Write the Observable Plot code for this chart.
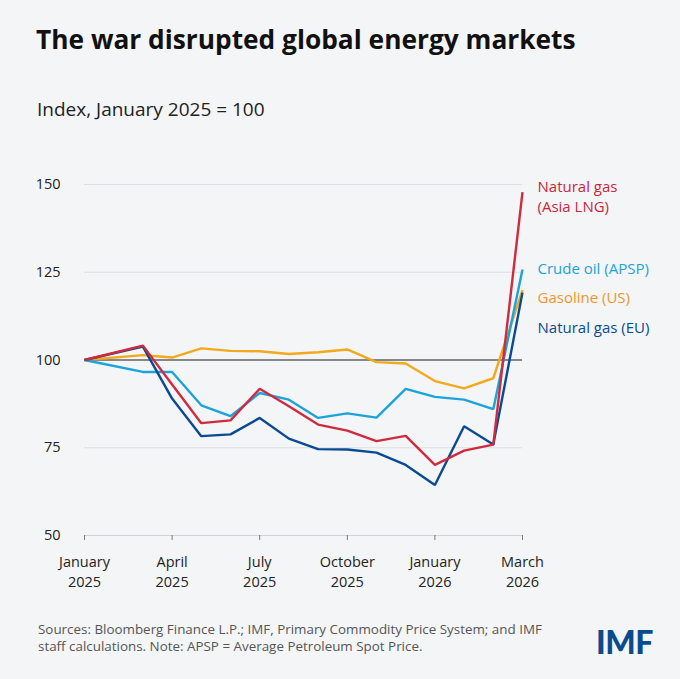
<!DOCTYPE html>
<html>
<head>
<meta charset="utf-8">
<script src="https://cdn.jsdelivr.net/npm/d3@7"></script>
<script src="https://cdn.jsdelivr.net/npm/@observablehq/plot@0.6"></script>
<style>
  html, body { margin: 0; padding: 0; background: #f4f5f7; }
  #wrap { position: relative; width: 680px; height: 679px; overflow: hidden; background: #f4f5f7; font-family: "Open Sans", Lato, sans-serif; }
  .title { position: absolute; left: 36px; top: 21px; font-size: 26.3px; font-weight: 700; color: #111; white-space: nowrap; line-height: normal; }
  .subtitle { position: absolute; left: 37px; top: 96px; font-size: 19px; color: #222; white-space: nowrap; line-height: normal; }
  #chart { position: absolute; left: 0; top: 140px; }
  .note { position: absolute; left: 38px; top: 621px; font-size: 13.4px; line-height: 17px; color: #555; white-space: nowrap; }
  .logo { position: absolute; left: 596px; top: 622px; font-family: Lato, sans-serif; font-size: 32px; font-weight: 900; color: #0b4a8f; letter-spacing: -0.5px; line-height: normal; }
</style>
</head>
<body>
<div id="wrap">
  <div class="title">The war disrupted global energy markets</div>
  <div class="subtitle">Index, January 2025 = 100</div>
  <div id="chart"></div>
  <div class="note">Sources: Bloomberg Finance L.P.; IMF, Primary Commodity Price System; and IMF<br>staff calculations. Note: APSP = Average Petroleum Spot Price.</div>
  <div class="logo">IMF</div>
</div>
<script>
// Month index counted from January 2025 (0) to March 2026 (15)
const monthIndex = [0, 2, 3, 4, 5, 6, 7, 8, 9, 10, 11, 12, 13, 14, 15];
const tickMonths = [0, 3, 6, 9, 12, 15];
const tickLabels = ["January\n2025", "April\n2025", "July\n2025", "October\n2025", "January\n2026", "March\n2026"];
const yTicks = [50, 75, 100, 125, 150];

const seriesNames = ["Gasoline (US)", "Crude oil (APSP)", "Natural gas (EU)", "Natural gas\n(Asia LNG)"];
const gasolineUS = [100, 101.4, 100.7, 103.3, 102.6, 102.5, 101.7, 102.2, 103.0, 99.4, 99.0, 94.0, 91.9, 94.8, 119.9];
const crudeOilAPSP = [100, 96.6, 96.6, 87.1, 84.0, 90.6, 88.7, 83.5, 84.8, 83.6, 91.8, 89.5, 88.7, 86.0, 125.8];
const naturalGasEU = [100, 103.8, 89.0, 78.3, 78.8, 83.5, 77.6, 74.6, 74.5, 73.6, 70.1, 64.4, 81.1, 75.9, 119.2];
const naturalGasAsiaLNG = [100, 104.1, 93.0, 82.0, 82.8, 91.8, 86.8, 81.6, 79.9, 76.9, 78.4, 70.1, 74.2, 75.9, 147.8];

const seriesValues = [gasolineUS, crudeOilAPSP, naturalGasEU, naturalGasAsiaLNG];
const lineColors = ["#f2a91e", "#1ba3dc", "#0a4a92", "#d02a3e"];
const labelColors = ["#f0952c", "#1ba3dc", "#0a4a92", "#c9263c"];
const labelDy = [6, -2, 34, 3];

const rows = seriesNames.flatMap((name, i) =>
  monthIndex.map((m, j) => ({series: name, month: m, value: seriesValues[i][j]}))
);

const marks = [
  Plot.ruleY([75, 125, 150], {stroke: "#dcdee2", strokeWidth: 1}),
  Plot.ruleY([50], {stroke: "#d0d2d6", strokeWidth: 1}),
  Plot.ruleY([100], {stroke: "#1a1a1a", strokeWidth: 1}),
  Plot.axisY({ticks: yTicks, tickSize: 0, tickPadding: 24, label: null, fontSize: 14.5, fill: "#222"}),
  Plot.axisX({ticks: tickMonths, tickFormat: d => tickLabels[tickMonths.indexOf(d)], tickSize: 5, tickPadding: 12.5, label: null, fontSize: 14.5, fill: "#222", stroke: "#777", lineHeight: 1.38})
];

seriesNames.forEach((name, i) => {
  const data = rows.filter(d => d.series === name);
  marks.push(Plot.line(data, {x: "month", y: "value", stroke: lineColors[i], strokeWidth: 2.4, strokeLinejoin: "miter", strokeLinecap: "butt"}));
});
seriesNames.forEach((name, i) => {
  const data = rows.filter(d => d.series === name);
  marks.push(Plot.text(data, Plot.selectLast({x: "month", y: "value", text: "series", fill: labelColors[i], textAnchor: "start", lineAnchor: "middle", dx: 15, dy: labelDy[i], fontSize: 15, lineHeight: 1.38})));
});

const chart = Plot.plot({
  width: 680,
  height: 460,
  marginLeft: 84,
  marginRight: 158,
  marginTop: 44,
  marginBottom: 65,
  x: {domain: [0, 15]},
  y: {domain: [50, 150]},
  style: {background: "transparent", fontFamily: "'Open Sans', Lato, sans-serif", fontSize: "14px", color: "#222", overflow: "visible"},
  marks
});
document.getElementById("chart").appendChild(chart);
</script>
</body>
</html>
